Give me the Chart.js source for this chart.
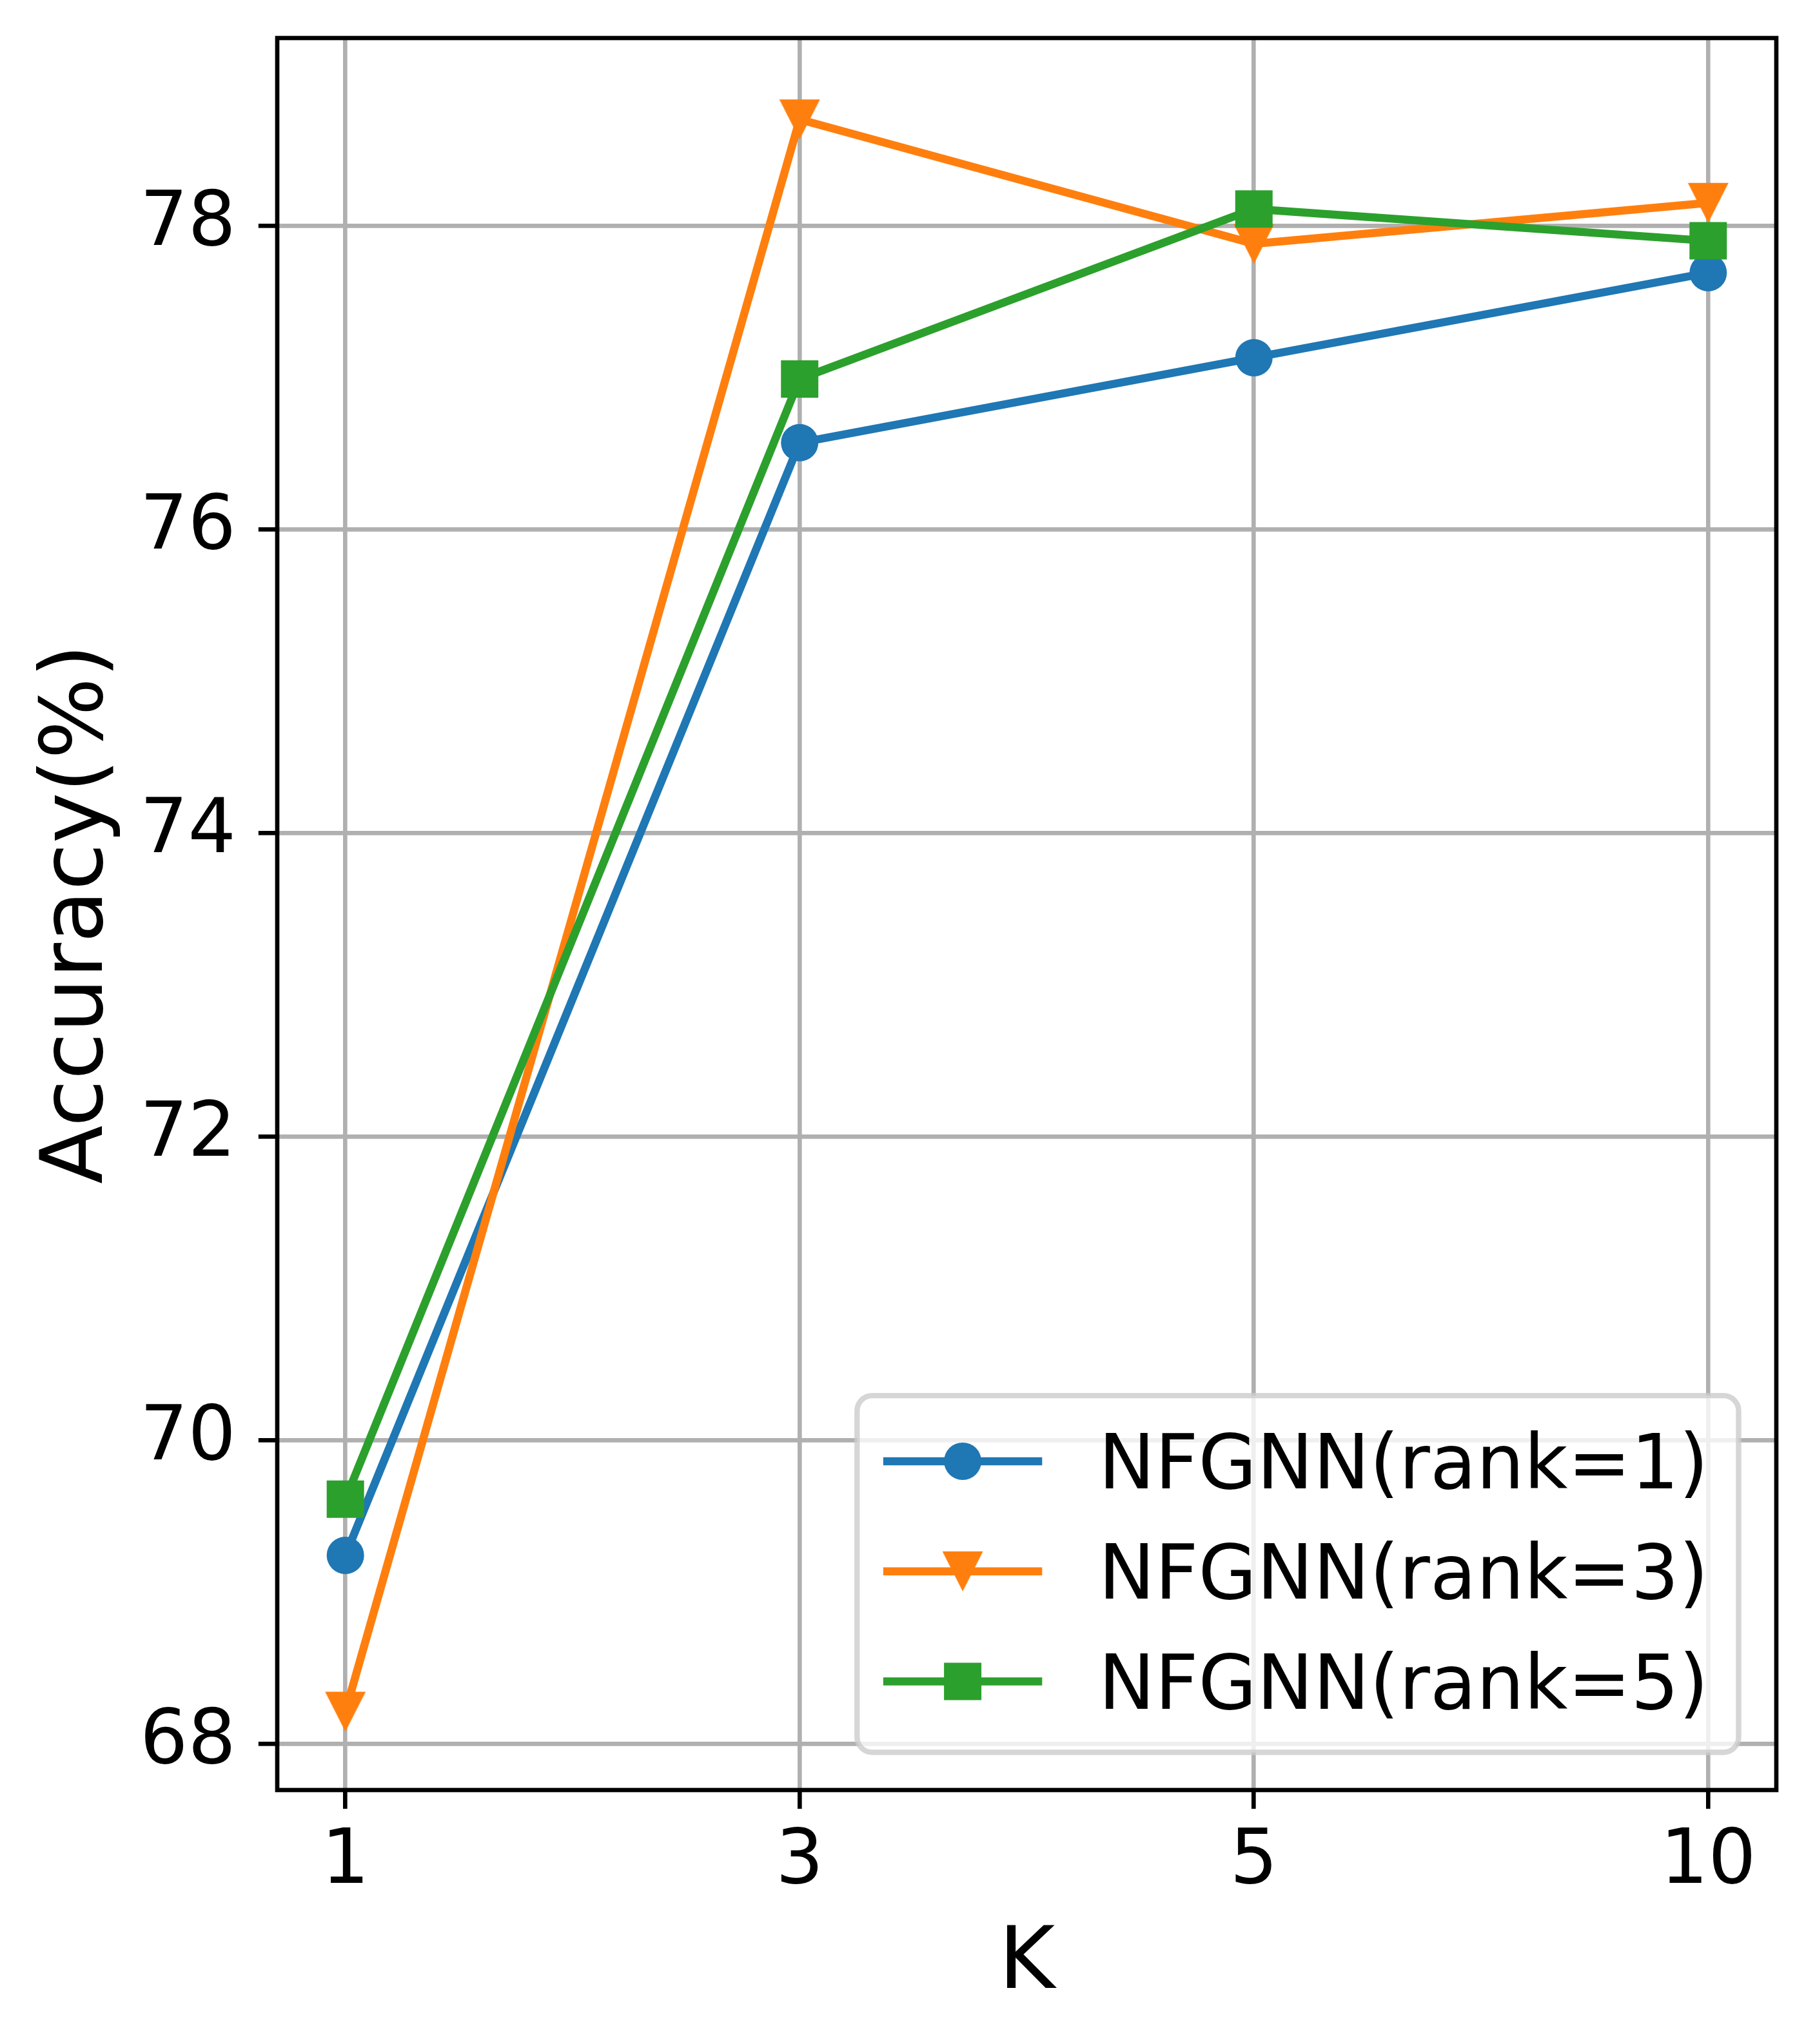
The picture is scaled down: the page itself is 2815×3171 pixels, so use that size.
<!DOCTYPE html>
<html>
<head>
<meta charset="utf-8">
<script src="https://cdn.jsdelivr.net/npm/chart.js"></script>
<style>
  html, body { margin: 0; padding: 0; background: #fff; }
  canvas { display: block; }
</style>
</head>
<body>
<canvas id="chart" width="2815" height="3171"></canvas>
<script>
// data
const kLabels = ['1', '3', '5', '10'];
const yTicks = [68, 70, 72, 74, 76, 78];
const seriesNames = ['NFGNN(rank=1)', 'NFGNN(rank=3)', 'NFGNN(rank=5)'];
const rank1 = [69.24, 76.57, 77.13, 77.69];
const rank3 = [68.21, 78.70, 77.88, 78.15];
const rank5 = [69.61, 76.99, 78.11, 77.90];

const PT = 600 / 72;           // original was saved at 600 dpi
const FONT = 'DejaVu Sans';
const TICK_SIZE = 117;         // 14pt
const LABEL_SIZE = 133;        // 16pt
const colors = ['#1f77b4', '#ff7f0e', '#2ca02c'];

// matplotlib style "v" marker
function triangleDown(color) {
  const c = document.createElement('canvas');
  c.width = 64;
  c.height = 64;
  const g = c.getContext('2d');
  g.fillStyle = color;
  g.beginPath();
  g.moveTo(0.5, 1);
  g.lineTo(63.5, 1);
  g.lineTo(32, 63);
  g.closePath();
  g.fill();
  return c;
}

const styles = ['circle', triangleDown(colors[1]), 'rect'];
const radii = [29, 32, 41];
const series = [rank1, rank3, rank5];

function drawMarker(ctx, d, x, y) {
  const s = d.pointStyle;
  ctx.fillStyle = d.pointBackgroundColor;
  if (s instanceof HTMLCanvasElement) {
    ctx.drawImage(s, x - s.width / 2, y - s.height / 2);
  } else if (s === 'rect') {
    const h = d.pointRadius * Math.SQRT1_2;
    ctx.fillRect(x - h, y - h, 2 * h, 2 * h);
  } else {
    ctx.beginPath();
    ctx.arc(x, y, d.pointRadius, 0, Math.PI * 2);
    ctx.fill();
  }
}

const whiteBg = {
  id: 'whiteBg',
  beforeDraw(chart) {
    const ctx = chart.ctx;
    ctx.save();
    ctx.fillStyle = '#fff';
    ctx.fillRect(0, 0, chart.width, chart.height);
    ctx.restore();
  }
};

// full box of spines
const spines = {
  id: 'spines',
  afterDatasetsDraw(chart) {
    const {ctx, chartArea: a} = chart;
    ctx.save();
    ctx.strokeStyle = '#000';
    ctx.lineWidth = 0.8 * PT;
    ctx.strokeRect(a.left, a.top, a.right - a.left, a.bottom - a.top);
    ctx.restore();
  }
};

// legend box in the lower right of the axes
const boxLegend = {
  id: 'boxLegend',
  afterDraw(chart) {
    const {ctx, chartArea} = chart;
    const fs = TICK_SIZE;
    ctx.save();
    ctx.font = fs + 'px "' + FONT + '"';
    const textW = Math.max(...chart.data.datasets.map(d => ctx.measureText(d.label).width));
    const pad = 0.4 * fs, handle = 2 * fs, gap = 0.8 * fs;
    const w = pad + handle + gap + textW + pad;
    const h = 4.73 * fs;
    const right = chartArea.right - 0.5 * fs;
    const bottom = chartArea.bottom - 0.5 * fs;
    const left = right - w, top = bottom - h;

    ctx.beginPath();
    ctx.roundRect(left, top, w, h, 0.2 * fs);
    ctx.fillStyle = 'rgba(255,255,255,0.8)';
    ctx.fill();
    ctx.lineWidth = PT;
    ctx.strokeStyle = 'rgba(204,204,204,0.8)';
    ctx.stroke();

    chart.data.datasets.forEach((d, i) => {
      const cy = top + 0.87 * fs + i * 1.46 * fs;
      const x0 = left + pad;
      ctx.strokeStyle = d.borderColor;
      ctx.lineWidth = d.borderWidth;
      ctx.lineCap = 'square';
      ctx.beginPath();
      ctx.moveTo(x0, cy);
      ctx.lineTo(x0 + handle, cy);
      ctx.stroke();
      drawMarker(ctx, d, x0 + handle / 2, cy);
      ctx.fillStyle = '#000';
      ctx.textAlign = 'left';
      ctx.textBaseline = 'alphabetic';
      ctx.fillText(d.label, x0 + handle + gap, cy + 0.36 * fs);
    });
    ctx.restore();
  }
};

const gridOpts = {
  color: '#b0b0b0',
  lineWidth: 0.8 * PT,
  tickColor: '#000',
  tickLength: 3.5 * PT,
  tickWidth: 0.8 * PT
};

new Chart(document.getElementById('chart'), {
  type: 'line',
  data: {
    datasets: series.map((vals, i) => ({
      label: seriesNames[i],
      data: vals.map((v, j) => ({x: j, y: v})),
      borderColor: colors[i],
      backgroundColor: colors[i],
      pointBackgroundColor: colors[i],
      borderWidth: 1.5 * PT,
      borderJoinStyle: 'round',
      pointStyle: styles[i],
      pointRadius: radii[i],
      pointHoverRadius: radii[i],
      pointBorderWidth: 0,
      tension: 0,
      order: 3 - i
    }))
  },
  options: {
    responsive: false,
    devicePixelRatio: 1,
    animation: false,
    layout: { padding: { top: 59, right: 60, bottom: 0, left: 0 } },
    plugins: {
      legend: { display: false },
      tooltip: { enabled: false }
    },
    scales: {
      x: {
        type: 'linear',
        min: -0.15,
        max: 3.15,
        afterBuildTicks: s => { s.ticks = kLabels.map((_, i) => ({value: i})); },
        afterFit: s => { s.height = 394; s.paddingLeft = 0; s.paddingRight = 0; },
        ticks: {
          callback: v => kLabels[v],
          font: { family: FONT, size: TICK_SIZE },
          color: '#000',
          padding: 14,
          autoSkip: false,
          maxRotation: 0
        },
        grid: gridOpts,
        border: { display: false },
        title: {
          display: true,
          text: 'K',
          font: { family: FONT, size: LABEL_SIZE },
          color: '#000',
          padding: { top: 0, bottom: 42 }
        }
      },
      y: {
        min: 67.694,
        max: 79.236,
        afterBuildTicks: s => { s.ticks = yTicks.map(v => ({value: v})); },
        afterFit: s => { s.width = 430; s.paddingTop = 0; s.paddingBottom = 0; },
        ticks: {
          font: { family: FONT, size: TICK_SIZE },
          color: '#000',
          padding: 35
        },
        grid: gridOpts,
        border: { display: false },
        title: {
          display: true,
          text: 'Accuracy(%)',
          font: { family: FONT, size: LABEL_SIZE },
          color: '#000',
          padding: { top: 44, bottom: 0 }
        }
      }
    }
  },
  plugins: [whiteBg, spines, boxLegend]
});
</script>
</body>
</html>
